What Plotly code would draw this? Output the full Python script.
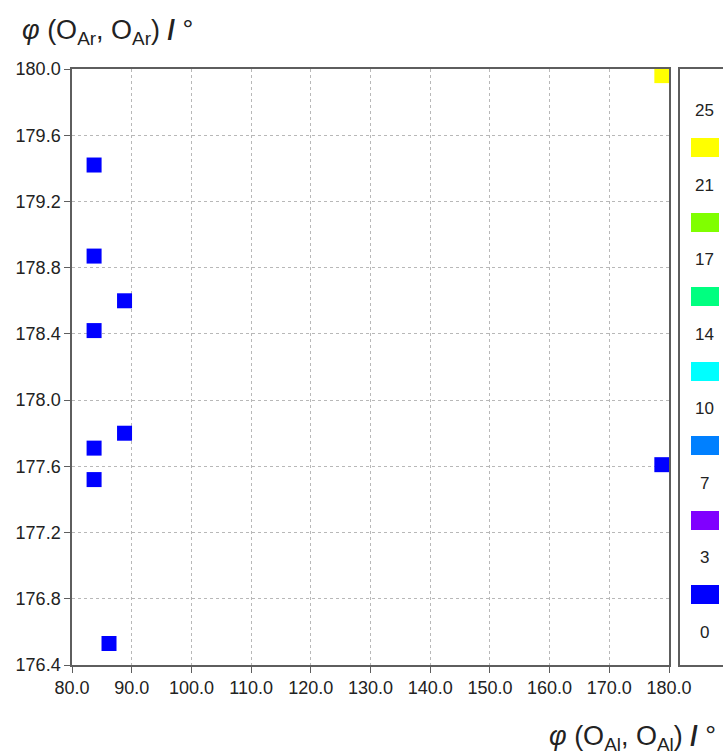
import plotly.graph_objects as go

# Dihedral-angle pairs: phi(O_Al, O_Al) vs phi(O_Ar, O_Ar), with an occurrence count per point
phi_al = [83.7, 83.7, 88.8, 83.7, 88.8, 83.7, 83.7, 86.2, 178.8, 178.8]
phi_ar = [179.42, 178.87, 178.60, 178.42, 177.80, 177.71, 177.52, 176.53, 177.61, 179.96]
counts = [1, 1, 1, 1, 1, 1, 1, 1, 1, 25]

# Discrete colour bins for the count scale
bin_labels = ["0", "3", "7", "10", "14", "17", "21", "25"]
bin_edges = [0, 25 / 7, 50 / 7, 75 / 7, 100 / 7, 125 / 7, 150 / 7, 25]
bin_colors = ["#0000ff", "#8000ff", "#0080ff", "#00ffff", "#00ff80", "#80ff00", "#ffff00"]

x_ticks = [80, 90, 100, 110, 120, 130, 140, 150, 160, 170, 180]
y_ticks = [176.4, 176.8, 177.2, 177.6, 178.0, 178.4, 178.8, 179.2, 179.6, 180.0]


def color_for(c):
    for i in range(len(bin_colors)):
        if c <= bin_edges[i + 1]:
            return bin_colors[i]
    return bin_colors[-1]


point_colors = [color_for(c) for c in counts]

FONT = "Liberation Sans, Arial, Helvetica, sans-serif"
TXT = "#222222"
AXIS = "#5e5e5e"
GRID = "#b8b8b8"

W, H = 723, 756
ML, MR, MT, MB = 72, 0, 69, 91
PW, PH = W - ML - MR, H - MT - MB

fig = go.Figure()

fig.add_trace(go.Scatter(
    x=phi_al, y=phi_ar, mode="markers",
    marker=dict(symbol="square", size=15, color=point_colors, line=dict(width=0)),
    cliponaxis=False, showlegend=False, hoverinfo="x+y",
))

# Colour key: swatches between the bin-boundary labels
n_bins = len(bin_colors)
swatch_pos = [i + 0.5 for i in range(n_bins)]
fig.add_trace(go.Bar(
    x=[0.65] * n_bins, base=[0.256] * n_bins, y=swatch_pos, orientation="h",
    width=0.255, marker=dict(color=bin_colors, line=dict(width=0)),
    xaxis="x2", yaxis="y2", showlegend=False, hoverinfo="skip",
))

key_labels = [
    dict(text=lab, xref="x2", yref="y2", x=0.56, y=i, showarrow=False,
         xanchor="center", yanchor="middle",
         font=dict(family=FONT, size=17, color=TXT))
    for i, lab in enumerate(bin_labels)
]

axis_common = dict(
    showline=True, linecolor=AXIS, linewidth=1.5, mirror=True,
    ticks="outside", ticklen=6, tickwidth=1.2, tickcolor=AXIS,
    showgrid=True, gridcolor=GRID, griddash="3px,3px", gridwidth=1,
    zeroline=False, tickfont=dict(family=FONT, size=18, color=TXT),
    tickformat=".1f",
)

fig.update_layout(
    width=W, height=H, autosize=False,
    margin=dict(l=ML, r=MR, t=MT, b=MB, autoexpand=False),
    paper_bgcolor="white", plot_bgcolor="white",
    bargap=0,
    xaxis=dict(domain=[0, 597 / PW], range=[80, 180], tickvals=x_ticks, **axis_common),
    yaxis=dict(domain=[0, 1], range=[176.4, 180.0], tickvals=y_ticks, **axis_common),
    xaxis2=dict(domain=[608 / PW, 1.0], range=[0, 1], anchor="y2",
                showline=True, linecolor=AXIS, linewidth=1.5, mirror=True,
                showgrid=False, zeroline=False, showticklabels=False, ticks=""),
    yaxis2=dict(domain=[0, 1], range=[-0.44, 7.56], anchor="x2",
                showline=True, linecolor=AXIS, linewidth=1.5, mirror=False,
                showgrid=False, zeroline=False, showticklabels=False, ticks=""),
    annotations=[
        dict(text="<i>φ</i> (O<sub>Ar</sub>, O<sub>Ar</sub>) <b>/</b> °", xref="paper", yref="paper",
             x=(20 - ML) / PW, y=1 + 37 / PH, xanchor="left", yanchor="middle",
             showarrow=False, font=dict(family=FONT, size=27, color=TXT)),
        dict(text="<i>φ</i> (O<sub>Al</sub>, O<sub>Al</sub>) <b>/</b> °", xref="paper", yref="paper",
             x=(718 - ML) / PW, y=-73 / PH, xanchor="right", yanchor="middle",
             showarrow=False, font=dict(family=FONT, size=27, color=TXT)),
    ] + key_labels,
)

fig.write_html("out.html", config={"responsive": False},
               default_width=f"{W}px", default_height=f"{H}px")
